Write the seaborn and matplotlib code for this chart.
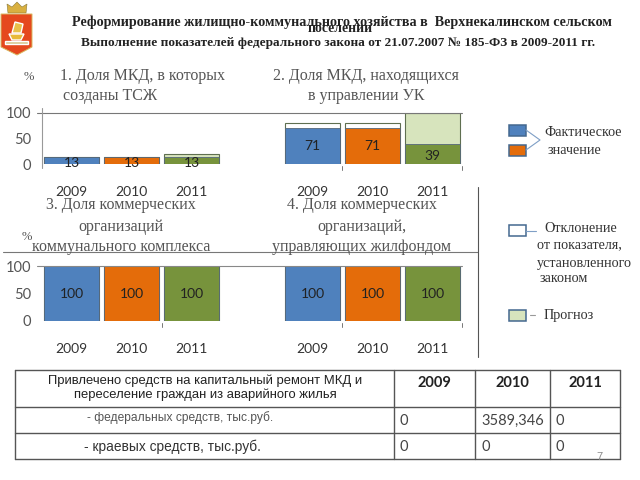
"""Housing reform slide: four small bar panels, legend notes and funding table"""
import matplotlib
matplotlib.use('Agg')
import matplotlib.pyplot as plt
from matplotlib.patches import Polygon, Rectangle
import seaborn as sns

years = ['2009', '2010', '2011']

# actual values and the height of the outline/forecast bar behind them
panel1_actual = [13, 13, 13]
panel1_outer = [13, 13, 20]
panel2_actual = [71, 71, 39]
panel2_outer = [80, 80, 100]
panel3_actual = [100, 100, 100]
panel3_outer = [100, 100, 100]
panel4_actual = [100, 100, 100]
panel4_outer = [100, 100, 100]

y_ticks = [0, 50, 100]

table_head = 'Привлечено средств на капитальный ремонт МКД и\nпереселение граждан из аварийного жилья'
row_federal = ['0', '3589,346', '0']
row_regional = ['0', '0', '0']

BLUE = '#4f81bd'
ORANGE = '#e46c0a'
GREEN = '#77933c'
FORECAST = '#d7e4bd'
GREY = '#555555'
SERIF = 'Liberation Serif'
SANS = 'Liberation Sans'
NUM = 'Lato'

sns.set_theme(style='white')
plt.rcParams['font.family'] = ['Liberation Sans', 'DejaVu Sans']

fig = plt.figure(figsize=(6.4, 4.8), dpi=100)

# Overlay in pixel coordinates for everything that is slide furniture
page = fig.add_axes([0, 0, 1, 1], zorder=5)
page.set_xlim(0, 640)
page.set_ylim(480, 0)
page.axis('off')
page.patch.set_alpha(0)


def panel(left, right, y0, y100, actual, outer, show_y):
    """Draws one stacked-looking panel, with the outer bar behind the actual one"""
    ax = fig.add_axes([left / 640, 1 - y0 / 480, (right - left) / 640, (y0 - y100) / 480])
    ax.patch.set_alpha(0)
    back = {'2009': 'white', '2010': 'white', '2011': FORECAST}
    sns.barplot(x=years, y=outer, hue=years, palette=back, legend=False, width=0.93,
                saturation=1, edgecolor='#5f6f50', linewidth=0.8, ax=ax)
    front = {'2009': BLUE, '2010': ORANGE, '2011': GREEN}
    sns.barplot(x=years, y=actual, hue=years, palette=front, legend=False, width=0.93,
                saturation=1, edgecolor='#55677a', linewidth=0.6, ax=ax)
    ax.set_xlim(-0.5, 2.5)
    ax.set_ylim(0, 100)
    ax.set(xlabel='', ylabel='')
    sns.despine(ax=ax, left=True, bottom=True)
    ax.set_yticks(y_ticks)
    ax.tick_params(axis='x', length=0, pad=15.5, labelsize=10, labelcolor='#333333')
    ax.tick_params(axis='y', length=0, pad=7.5, labelsize=10.5, labelcolor=GREY)
    for label in ax.get_xticklabels() + ax.get_yticklabels():
        label.set_family(NUM)
    if not show_y:
        ax.set_yticklabels([])
    # Value labels sit in the middle of the bar, small bars read a bit lower
    for i, value in enumerate(actual):
        ypos = value / 2 if value > 50 else value / 2 - 4
        ax.text(i, ypos, str(value), ha='center', va='center', fontsize=10,
                family=NUM, color='#222222')
    return ax


panel(41.5, 221.5, 164, 113, panel1_actual, panel1_outer, True)
panel(282.5, 462.5, 164, 113, panel2_actual, panel2_outer, False)
panel(41.5, 221.5, 321, 266, panel3_actual, panel3_outer, True)
panel(282.5, 462.5, 321, 266, panel4_actual, panel4_outer, False)

# Rules of the panels
page.plot([37, 462], [113, 113], color='#777777', lw=0.8)
page.plot([37, 462], [266, 266], color='#888888', lw=0.8)
page.plot([42, 42], [108, 168], color='#999999', lw=0.8)
page.plot([3, 478], [252, 252], color='#777777', lw=0.8)
page.plot([478, 478], [187, 357], color='#555555', lw=0.8)
for x, y in [(342, 168), (462, 168), (162, 325), (342, 325), (462, 325)]:
    page.plot([x, x], [y - 2, y + 2], color='#777777', lw=0.7)

# Heading
page.text(342, 22, 'Реформирование жилищно-коммунального хозяйства в  Верхнекалинском сельском',
          ha='center', va='center', fontsize=10.2, fontweight='bold', family=SERIF, color='#222222')
page.text(340, 29, 'поселении', ha='center', va='center', fontsize=9.9, fontweight='bold',
          family=SERIF, color='#222222')
page.text(338, 43, 'Выполнение показателей федерального закона от 21.07.2007 № 185-ФЗ в 2009-2011 гг.',
          ha='center', va='center', fontsize=9.55, fontweight='bold', family=SERIF, color='#222222')

# Panel headings
heads = [
    (142, 76, '1. Доля МКД, в которых'), (110, 96, 'созданы ТСЖ'),
    (366, 76, '2. Доля МКД, находящихся'), (366, 96, 'в управлении УК'),
    (121, 205, '3. Доля коммерческих'), (121, 227, 'организаций'),
    (121, 247, 'коммунального комплекса'),
    (362, 205, '4. Доля коммерческих'), (362, 227, 'организаций,'),
    (362, 247, 'управляющих жилфондом'),
]
for x, y, text in heads:
    page.text(x, y, text, ha='center', va='center', fontsize=11.5, family=SERIF, color=GREY)
page.text(29, 77, '%', ha='center', va='center', fontsize=9, family=SERIF, color=GREY)
page.text(27, 237, '%', ha='center', va='center', fontsize=9, family=SERIF, color=GREY)

# Legend notes
swatches = [(125, BLUE), (145, ORANGE), (225, 'white'), (310, FORECAST)]
for y, colour in swatches:
    page.add_patch(Rectangle((509, y), 17, 10.5, facecolor=colour, edgecolor='#44688f', lw=1.1))
page.plot([526, 540, 526], [130, 140, 150], color='#7f9fc6', lw=0.8)
page.plot([526, 536], [231, 231], color='#7f9fc6', lw=0.8)
page.plot([530, 535], [315, 315], color='#999999', lw=0.8)
notes = [
    (544, 133, 'Фактическое'), (548, 151, 'значение'),
    (544, 228, 'Отклонение'), (537, 245, 'от показателя,'),
    (537, 263, 'установленного'), (540, 279, 'законом'), (544, 316, 'Прогноз'),
]
for x, y, text in notes:
    page.text(x, y, text, ha='left', va='center', fontsize=10.2, family=SERIF, color='#333333')

# Table
col_x = [15, 394, 475, 550, 620]
row_y = [370, 407, 433, 459]
for x in col_x:
    page.plot([x, x], [row_y[0], row_y[-1]], color='#555555', lw=1)
for y in row_y:
    page.plot([col_x[0], col_x[-1]], [y, y], color='#555555', lw=1)
page.text(205, 388, table_head, ha='center', va='center', fontsize=9.4, linespacing=1.2,
          family=SANS, color='#222222')
for i, year in enumerate(years):
    page.text((col_x[i + 1] + col_x[i + 2]) / 2, 383, year, ha='center', va='center',
              fontsize=10.5, fontweight='bold', family=NUM, color='#222222')
page.text(180, 418, '- федеральных средств, тыс.руб.', ha='center', va='center', fontsize=8.65,
          family=SANS, color=GREY)
page.text(172, 447, '- краевых средств, тыс.руб.', ha='center', va='center', fontsize=9.95,
          family=SANS, color='#333333')
for i in range(3):
    page.text(col_x[i + 1] + 6, 421, row_federal[i], ha='left', va='center', fontsize=10.5,
              family=NUM, color='#444444')
    page.text(col_x[i + 1] + 6, 447, row_regional[i], ha='left', va='center', fontsize=10.5,
              family=NUM, color='#444444')
page.text(599, 457, '7', ha='center', va='center', fontsize=8, color='#888888')

# Coat of arms
page.add_patch(Polygon([(8, 13), (7, 4), (12, 7), (17, 2), (22, 7), (27, 4), (26, 13)],
                       facecolor='#d9b040', edgecolor='#8a7a3a', lw=0.4))
page.add_patch(Polygon([(1, 14), (32, 14), (32, 47), (17, 55), (1, 47)],
                       facecolor='#e5481e', edgecolor='#d8b860', lw=0.7))
page.add_patch(Polygon([(15, 22), (23, 24), (21, 33), (12, 33)], facecolor='#e8c04a'))
page.add_patch(Polygon([(9, 34), (24, 34), (21, 40), (12, 40)], facecolor='#e8b93a'))
page.add_patch(Polygon([(5, 41), (28, 41), (28, 44), (5, 44)], facecolor='#d8c890'))

fig.savefig('out.png', dpi=100)
